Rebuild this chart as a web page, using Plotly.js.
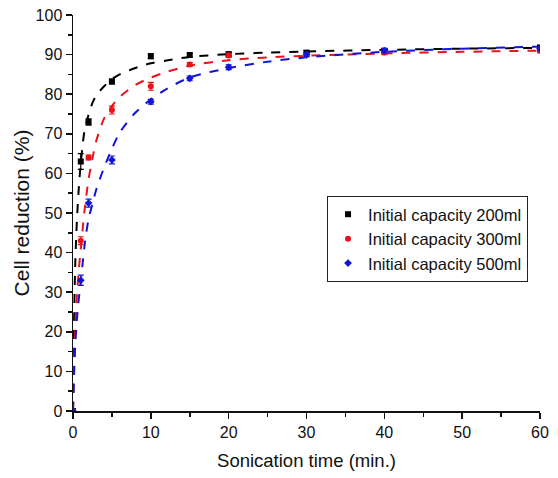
<!DOCTYPE html>
<html>
<head>
<meta charset="utf-8">
<script src="https://cdn.plot.ly/plotly-3.0.1.min.js"></script>
<style>
  html, body { margin: 0; padding: 0; background: #fff; }
  #chart { width: 558px; height: 478px; }
</style>
</head>
<body>
<div id="chart"></div>
<script>
// Measured points (time in min, cell reduction in %)
const tPoints = [0, 1, 2, 5, 10, 15, 20, 30, 40, 60];
const y200 = [0, 63, 73, 83.2, 89.6, 89.9, 90.1, 90.5, 91, 91.8];
const y300 = [0, 43, 64, 76, 82, 87.5, 89.8, 90, 90.5, 91];
const y500 = [0, 33, 52.5, 63.4, 78.1, 84, 86.8, 90, 91, 91.5];
const err200 = [0, 2, 0.8, 0.6, 0.6, 0.5, 0.5, 0.5, 0.5, 0.5];
const err300 = [0, 1, 0.6, 1, 1, 0.5, 0.5, 0.5, 0.5, 0.5];
const err500 = [0, 1.3, 1, 1, 0.6, 0.6, 0.6, 0.5, 0.5, 0.5];

// Fitted curves
const tFit = [0, 0.15, 0.3, 0.5, 0.7, 0.9, 1.2, 1.5, 2, 2.5, 3, 4, 5, 6, 8, 10, 12, 15, 20, 25, 30, 40, 50, 60];
const fit200 = [0, 24, 38, 48, 55, 60.4, 66.5, 71, 74.8, 77.8, 79.7, 82.0, 83.8, 85.0, 86.6, 87.8, 88.5, 89.4, 90.1, 90.5, 90.8, 91.2, 91.5, 91.7];
const fit300 = [0, 12, 21, 29, 34.5, 39, 45, 51, 58.5, 63.8, 68.3, 73.9, 77, 79.3, 82.3, 84.2, 85.6, 87.2, 88.6, 89.3, 89.7, 90.3, 90.7, 91.0];
const fit500 = [0, 10, 17, 23, 27.5, 31, 36.5, 42, 48.5, 52.3, 56.0, 61.5, 66.2, 70.3, 75.3, 78.7, 81.3, 84.2, 86.6, 88.2, 89.3, 90.7, 91.5, 92.0];

const seriesNames = ['Initial capacity 200ml', 'Initial capacity 300ml', 'Initial capacity 500ml'];
const colors = ['#000000', '#e8141c', '#1414d8'];
const symbols = ['square', 'circle', 'diamond'];

const ys = [y200, y300, y500];
const errs = [err200, err300, err500];
const fits = [fit200, fit300, fit500];

const traces = [];
for (let i = 0; i < 3; i++) {
  traces.push({
    x: tFit, y: fits[i], type: 'scatter', mode: 'lines',
    line: { color: colors[i], dash: 'dash', width: 2, shape: 'spline', smoothing: 0.8 },
    showlegend: false, hoverinfo: 'skip'
  });
}
for (let i = 0; i < 3; i++) {
  traces.push({
    x: tPoints, y: ys[i], type: 'scatter', mode: 'markers', name: seriesNames[i],
    marker: { color: colors[i], symbol: symbols[i], size: 6 },
    error_y: { type: 'data', array: errs[i], color: colors[i], thickness: 1.2, width: 3 }
  });
}

const font = 'Liberation Sans, Arial, sans-serif';
const layout = {
  width: 558, height: 478,
  margin: { l: 73, r: 18, t: 15, b: 67 },
  paper_bgcolor: '#fff', plot_bgcolor: '#fff',
  font: { family: font, color: '#111', size: 16 },
  showlegend: true,
  legend: {
    x: 0.544, y: 0.543, xanchor: 'left', yanchor: 'top',
    bordercolor: '#222', borderwidth: 1, bgcolor: '#fff',
    font: { family: font, size: 16.5, color: '#111' },
    itemsizing: 'trace', tracegroupgap: 0
  },
  xaxis: {
    range: [0, 60], dtick: 10, tick0: 0,
    showline: true, linecolor: '#111', linewidth: 1.5, mirror: false,
    ticks: 'outside', ticklen: 6, tickwidth: 1.5, tickcolor: '#111',
    minor: { dtick: 5, ticks: 'outside', ticklen: 4, tickwidth: 1.5, tickcolor: '#111' },
    showgrid: false, zeroline: false,
    tickfont: { family: font, size: 16, color: '#111' },
    title: { text: 'Sonication time (min.)', font: { family: font, size: 18.5, color: '#111' }, standoff: 14 }
  },
  yaxis: {
    range: [0, 100], dtick: 10, tick0: 0,
    showline: true, linecolor: '#111', linewidth: 1.5, mirror: false,
    ticks: 'outside', ticklen: 6, tickwidth: 1.5, tickcolor: '#111',
    minor: { dtick: 5, ticks: 'outside', ticklen: 4, tickwidth: 1.5, tickcolor: '#111' },
    showgrid: false, zeroline: false,
    tickfont: { family: font, size: 16, color: '#111' },
    title: { text: 'Cell reduction (%)', font: { family: font, size: 21, color: '#111' }, standoff: 0 }
  }
};

Plotly.newPlot('chart', traces, layout, { staticPlot: true, displayModeBar: false });
</script>
</body>
</html>
